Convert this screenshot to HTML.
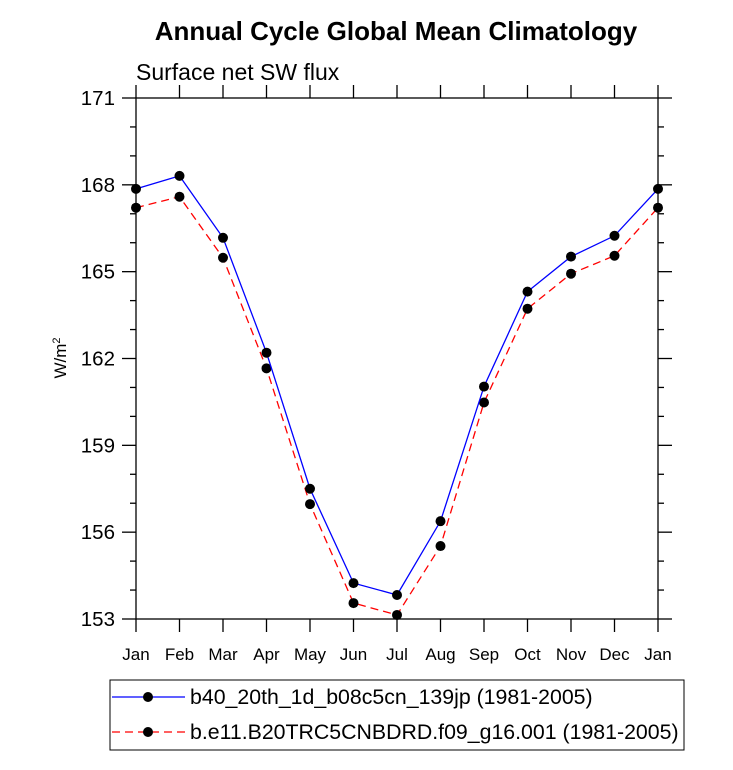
<!DOCTYPE html>
<html><head><meta charset="utf-8"><style>
body{margin:0;background:#fff;}
svg{display:block;font-family:"Liberation Sans",sans-serif;}
</style></head><body>
<svg id="chart" width="733" height="770">
<text x="396" y="40" text-anchor="middle" font-size="26" font-weight="bold">Annual Cycle Global Mean Climatology</text>
<text x="136" y="80" font-size="23">Surface net SW flux</text>
<text transform="translate(66,358) rotate(-90)" text-anchor="middle" font-size="17">W/m<tspan dy="-6" font-size="11">2</tspan></text>
<rect x="136" y="98" width="522" height="521" fill="none" stroke="#000" stroke-width="1.3"/>
<g id="axes"></g><g id="series"></g>
<g>
<rect x="110" y="680" width="574" height="70" fill="#fff" stroke="#000"/>
<g>
<line x1="112" y1="697" x2="185" y2="697" stroke="#00f" stroke-width="1.3"/><circle cx="148" cy="697" r="5"/>
<text x="190" y="704" font-size="21.3">b40_20th_1d_b08c5cn_139jp (1981-2005)</text></g>
<g>
<line x1="112" y1="732" x2="185" y2="732" stroke="#f00" stroke-width="1.3" stroke-dasharray="8,5"/><circle cx="148" cy="732" r="5"/>
<text x="190" y="739" font-size="21.3">b.e11.B20TRC5CNBDRD.f09_g16.001 (1981-2005)</text></g>
</g>
</svg>
<script>
const months=["Jan","Feb","Mar","Apr","May","Jun","Jul","Aug","Sep","Oct","Nov","Dec","Jan"];
const blueVals=[167.86,168.31,166.17,162.2,157.5,154.24,153.83,156.38,161.03,164.31,165.52,166.24,167.86];
const redVals=[167.21,167.59,165.48,161.66,156.97,153.55,153.14,155.52,160.48,163.72,164.93,165.55,167.21];
const yTicks=[153,156,159,162,165,168,171];
const NS="http://www.w3.org/2000/svg";
const X0=136,X1=658,Y0=619,Y1=98,ymin=153,ymax=171;
const xs=i=>X0+(X1-X0)*i/(months.length-1);
const ys=v=>Y0-(v-ymin)/(ymax-ymin)*(Y0-Y1);
function mk(t,a,p){const e=document.createElementNS(NS,t);for(const k in a)e.setAttribute(k,a[k]);p.appendChild(e);return e;}
const ax=document.getElementById('axes');
months.forEach((m,i)=>{const x=xs(i);
 mk('line',{x1:x,y1:Y0,x2:x,y2:Y0+13,stroke:'#000','stroke-width':1.3},ax);
 mk('line',{x1:x,y1:Y1,x2:x,y2:Y1-13,stroke:'#000','stroke-width':1.3},ax);
 const t=mk('text',{x:x,y:660,'text-anchor':'middle','font-size':17},ax);t.textContent=m;
 
 
});
for(let v=ymin;v<=ymax;v++){const y=ys(v);const maj=yTicks.includes(v);const L=maj?14:6;
 mk('line',{x1:X0-L,y1:y,x2:X0,y2:y,stroke:'#000','stroke-width':1.3},ax);
 mk('line',{x1:X1,y1:y,x2:X1+L,y2:y,stroke:'#000','stroke-width':1.3},ax);
}
yTicks.forEach(v=>{const t=mk('text',{x:115,y:ys(v)+7,'text-anchor':'end','font-size':20.5},ax);t.textContent=v;
 
 });
const sg=document.getElementById('series');
function draw(vals,color,dash,name){
 const g=mk('g',{},sg);
 
 
 const pl=mk('polyline',{points:vals.map((v,i)=>xs(i)+','+ys(v)).join(' '),fill:'none',stroke:color,'stroke-width':1.3},g);
 if(dash)pl.setAttribute('stroke-dasharray',dash);
 vals.forEach((v,i)=>{const c=mk('circle',{cx:xs(i),cy:ys(v),r:5,fill:'#000'},g);
  
  });
}
draw(redVals,'#f00','8,5','series-red');
draw(blueVals,'#00f',null,'series-blue');
</script>
</body></html>
